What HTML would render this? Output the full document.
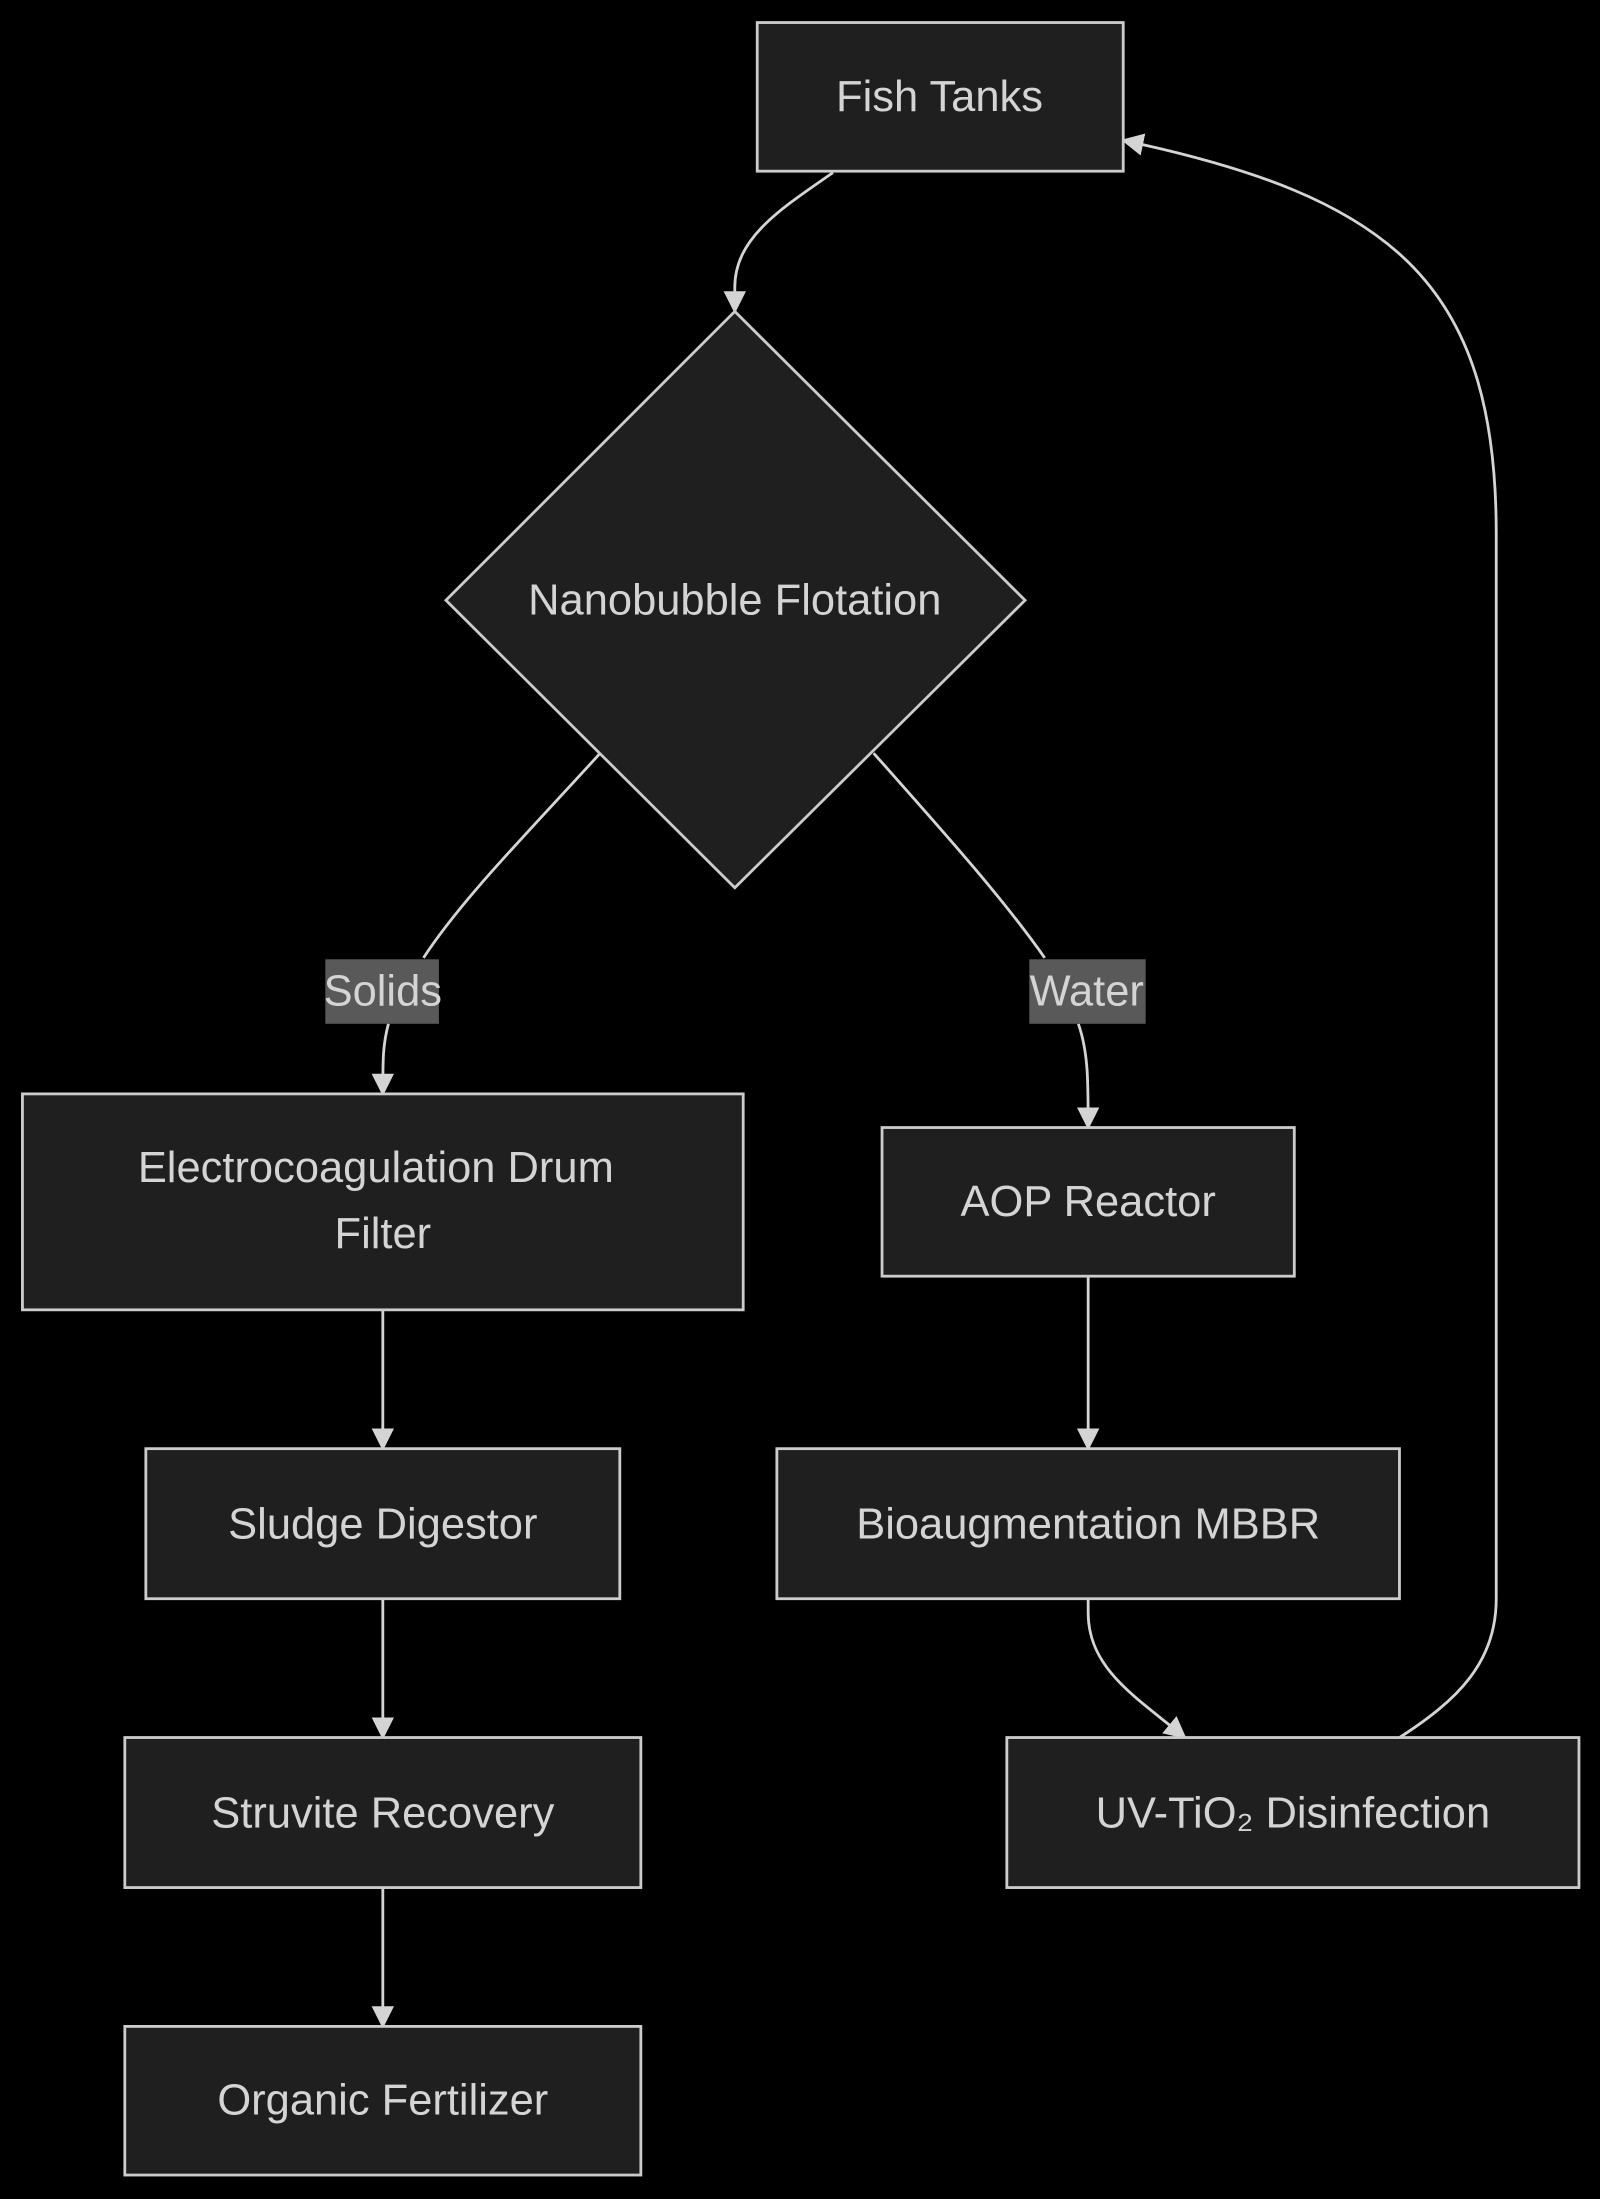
<!DOCTYPE html>
<html><head><meta charset="utf-8"><style>
html,body{margin:0;padding:0;background:#000;}
svg{display:block}
text{font-family:"Liberation Sans",sans-serif;font-size:31px;fill:#d4d4d4;text-anchor:middle;dominant-baseline:central}
.n{fill:#1f1f1f;stroke:#cccccc;stroke-width:2}
.e{fill:none;stroke:#d4d4d4;stroke-width:2}
</style></head><body>
<svg width="1600" height="2199" viewBox="0 0 1141 1568" xmlns="http://www.w3.org/2000/svg">
<defs>
<marker id="b" viewBox="0 0 10 10" refX="9" refY="5" markerWidth="16" markerHeight="16" markerUnits="userSpaceOnUse" orient="auto"><path d="M0,0L10,5L0,10z" fill="#d4d4d4"/></marker></defs>
<rect width="1141" height="1568" fill="#000"/>
<path class="e" marker-end="url(#b)" d="M594,123 C555,150 524,170 524,205 L524,222"/>
<path class="e" d="M428,537 C380,590 330,640 302,683"/>
<path class="e" marker-end="url(#b)" d="M277,730 C273,745 273,755 273,780"/>
<path class="e" d="M623,537 C670,590 715,640 745,683"/>
<path class="e" marker-end="url(#b)" d="M769,730 C776,750 776,770 776,804"/>
<path class="e" marker-end="url(#b)" d="M273,934 L273,1033"/>
<path class="e" marker-end="url(#b)" d="M273,1140 L273,1239"/>
<path class="e" marker-end="url(#b)" d="M273,1346 L273,1445"/>
<path class="e" marker-end="url(#b)" d="M776,910 L776,1033"/>
<path class="e" marker-end="url(#b)" d="M776,1140 L776,1150 C776,1190 810,1210 845,1239"/>
<path class="e" marker-end="url(#b)" d="M998,1239 C1040,1212 1067,1185 1067,1140 L1067,380 C1067,200 990,140 801,100"/>
<rect class="n" x="540" y="16" width="261" height="106"/><text x="670" y="69">Fish Tanks</text>
<polygon class="n" points="524,222 731,428 524,633 318,428"/><text x="524" y="428">Nanobubble Flotation</text>
<rect x="232" y="684" width="81" height="46" fill="#595959"/><text x="273" y="707">Solids</text>
<rect x="734" y="684" width="83" height="46" fill="#595959"/><text x="775" y="707">Water</text>
<rect class="n" x="16" y="780" width="514" height="154"/><text x="268" y="833">Electrocoagulation Drum</text><text x="273" y="880">Filter</text>
<rect class="n" x="629" y="804" width="294" height="106"/><text x="776" y="857">AOP Reactor</text>
<rect class="n" x="104" y="1033" width="338" height="107"/><text x="273" y="1087">Sludge Digestor</text>
<rect class="n" x="554" y="1033" width="444" height="107"/><text x="776" y="1087">Bioaugmentation MBBR</text>
<rect class="n" x="89" y="1239" width="368" height="107"/><text x="273" y="1293">Struvite Recovery</text>
<rect class="n" x="718" y="1239" width="408" height="107"/><text x="922" y="1293">UV-TiO₂ Disinfection</text>
<rect class="n" x="89" y="1445" width="368" height="106"/><text x="273" y="1498">Organic Fertilizer</text>
</svg>
</body></html>
